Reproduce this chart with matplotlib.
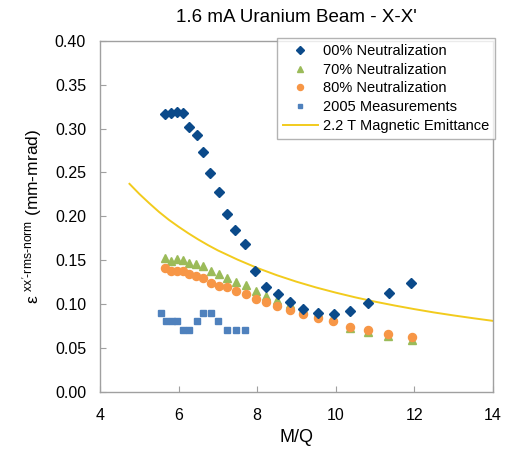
import matplotlib
matplotlib.use("Agg")
import matplotlib.pyplot as plt

plt.rcParams['font.family'] = ['Liberation Sans', 'DejaVu Sans']
plt.rcParams['mathtext.fontset'] = 'custom'
plt.rcParams['mathtext.rm'] = 'Liberation Sans'
plt.rcParams['mathtext.it'] = 'Liberation Sans:italic'

# 00% Neutralization
mq_00 = [5.65, 5.81, 5.95, 6.12, 6.27, 6.46, 6.62, 6.81, 7.02, 7.22, 7.44, 7.69,
         7.94, 8.22, 8.52, 8.83, 9.16, 9.54, 9.95, 10.36, 10.83, 11.36, 11.92]
em_00 = [0.317, 0.318, 0.319, 0.318, 0.302, 0.293, 0.273, 0.249, 0.228, 0.203, 0.184, 0.168,
         0.137, 0.119, 0.111, 0.102, 0.094, 0.090, 0.089, 0.092, 0.101, 0.112, 0.124]

# 70% Neutralization
mq_70 = [5.65, 5.81, 5.95, 6.10, 6.27, 6.44, 6.61, 6.82, 7.02, 7.24, 7.46, 7.71,
         7.97, 8.22, 8.50, 8.84, 9.17, 9.55, 9.94, 10.36, 10.83, 11.34, 11.93]
em_70 = [0.152, 0.149, 0.151, 0.150, 0.147, 0.146, 0.143, 0.137, 0.134, 0.129, 0.125, 0.121,
         0.115, 0.109, 0.104, 0.100, 0.094, 0.090, 0.085, 0.072, 0.068, 0.063, 0.059]

# 80% Neutralization
mq_80 = [5.65, 5.81, 5.95, 6.10, 6.27, 6.44, 6.61, 6.82, 7.02, 7.24, 7.46, 7.71,
         7.97, 8.22, 8.50, 8.84, 9.17, 9.55, 9.94, 10.36, 10.83, 11.34, 11.93]
em_80 = [0.141, 0.137, 0.138, 0.137, 0.134, 0.132, 0.129, 0.124, 0.120, 0.119, 0.115, 0.111,
         0.105, 0.102, 0.098, 0.093, 0.089, 0.084, 0.080, 0.074, 0.070, 0.066, 0.062]

# 2005 Measurements
mq_05 = [5.55, 5.68, 5.82, 5.97, 6.12, 6.27, 6.46, 6.63, 6.82, 7.01, 7.22, 7.46, 7.69]
em_05 = [0.090, 0.080, 0.080, 0.080, 0.070, 0.070, 0.080, 0.090, 0.090, 0.080, 0.070, 0.070, 0.070]

# 2.2 T Magnetic Emittance
mq_mag = [4.75, 5.0, 5.25, 5.5, 5.75, 6.0, 6.25, 6.5, 6.75, 7.0, 7.5, 8.0, 8.5, 9.0,
          9.5, 10.0, 10.5, 11.0, 11.5, 12.0, 12.5, 13.0, 13.5, 14.0]
em_mag = [0.237, 0.2255, 0.215, 0.205, 0.196, 0.188, 0.1805, 0.1735, 0.167, 0.161, 0.1505,
          0.141, 0.1327, 0.1253, 0.1187, 0.1128, 0.1074, 0.1025, 0.0981, 0.094, 0.0902,
          0.0868, 0.0836, 0.0806]

xticks = [4, 6, 8, 10, 12, 14]
yticks = [0.00, 0.05, 0.10, 0.15, 0.20, 0.25, 0.30, 0.35, 0.40]

fig = plt.figure(figsize=(5.08, 4.49), dpi=100)
ax = fig.add_axes([100/508, 1 - 391.5/449, 393/508, 350.5/449])

ax.plot(mq_mag, em_mag, color='#F2CB1D', lw=1.4, label='2.2 T Magnetic Emittance', zorder=2)
ax.plot(mq_05, em_05, ls='none', marker='s', ms=4.2, color='#4F81BD', label='2005 Measurements', zorder=3)
ax.plot(mq_70, em_70, ls='none', marker='^', ms=6, color='#9BBB59', label='70% Neutralization', zorder=3)
ax.plot(mq_80, em_80, ls='none', marker='o', ms=5.8, color='#F79646', label='80% Neutralization', zorder=4)
ax.plot(mq_00, em_00, ls='none', marker='D', ms=5.2, color='#0B4A8A', label='00% Neutralization', zorder=5)

ax.set_xlim(4, 14)
ax.set_ylim(0, 0.40)
ax.set_xticks(xticks)
ax.set_xticklabels([str(t) for t in xticks])
ax.set_yticks(yticks)
ax.set_yticklabels([f'{t:.2f}' for t in yticks])
ax.tick_params(direction='in', length=4, color='#A0A0A0', labelsize=11.5, pad=12)
ax.tick_params(axis='y', pad=10)
for s in ax.spines.values():
    s.set_color('#A0A0A0')
    s.set_linewidth(1.0)

ax.set_xlabel('M/Q', fontsize=13, labelpad=4)
ax.set_ylabel(r"ε $^{\mathrm{xx'\text{-}rms\text{-}norm}}$ (mm-mrad)", fontsize=12.5, labelpad=8)
fig.text(296.5/508, 1 - 18/449, "1.6 mA Uranium Beam - X-X'", ha='center', va='center', fontsize=13.5)

h, l = ax.get_legend_handles_labels()
order = [4, 2, 3, 1, 0]
leg = ax.legend([h[i] for i in order], [l[i] for i in order], loc='upper right',
                bbox_to_anchor=(495/508, 1 - 38/449), bbox_transform=fig.transFigure,
                fontsize=10.5, frameon=True, fancybox=False, edgecolor='#A0A0A0',
                handlelength=2.4, handletextpad=0.35, borderpad=0.4, labelspacing=0.33,
                borderaxespad=0, markerscale=0.75)
leg.get_frame().set_linewidth(1.0)

fig.savefig('out.png', dpi=100)
